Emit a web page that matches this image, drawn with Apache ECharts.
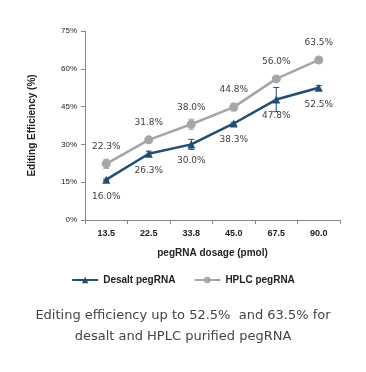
<!DOCTYPE html>
<html><head><meta charset="utf-8">
<script src="https://cdn.jsdelivr.net/npm/echarts@6/dist/echarts.min.js"></script>
<style>html,body{margin:0;padding:0;background:#fff}#c{width:366px;height:372px}</style>
</head><body><div id="c"></div>
<script>
var categories = ['13.5','22.5','33.8','45.0','67.5','90.0'];
var desalt = [16.0, 26.3, 30.0, 38.3, 47.8, 52.5];
var desaltErr = [0.3, 1.0, 2.0, 0.5, 4.8, 0.8];
var hplc = [22.3, 31.8, 38.0, 44.8, 56.0, 63.5];
var hplcErr = [1.8, 0.5, 2.0, 1.5, 1.0, 0.5];
var yTicks = [0, 15, 30, 45, 60, 75];
var caption = ['Editing efficiency up to 52.5%  and 63.5% for', 'desalt and HPLC purified pegRNA'];

var chart = echarts.init(document.getElementById('c'));
function errSeries(vals, errs, color) {
  return {
    type: 'custom', silent: true, z: 5,
    data: vals.map(function (v, i) { return [i, v - errs[i], v + errs[i]]; }),
    renderItem: function (params, api) {
      var lo = api.coord([api.value(0), api.value(1)]);
      var hi = api.coord([api.value(0), api.value(2)]);
      var w = 3;
      var st = { stroke: color, lineWidth: 1 };
      return { type: 'group', children: [
        { type: 'line', shape: { x1: lo[0], y1: lo[1], x2: hi[0], y2: hi[1] }, style: st },
        { type: 'line', shape: { x1: lo[0]-w, y1: lo[1], x2: lo[0]+w, y2: lo[1] }, style: st },
        { type: 'line', shape: { x1: hi[0]-w, y1: hi[1], x2: hi[0]+w, y2: hi[1] }, style: st }
      ]};
    }
  };
}
var labelStyle = { show: true, fontSize: 9, color: '#404040', fontFamily: 'DejaVu Sans', formatter: function (p) { return p.value.toFixed(1) + '%'; } };
chart.setOption({
  animation: false,
  graphic: [
    { type: 'text', x: 183, y: 309, style: { text: caption[0], align: 'center', fill: '#444', font: '13px "DejaVu Sans"' } },
    { type: 'text', x: 183, y: 330, style: { text: caption[1], align: 'center', fill: '#444', font: '13px "DejaVu Sans"' } }
  ],
  legend: {
    data: ['Desalt pegRNA', 'HPLC pegRNA'], top: 270, left: 'center',
    itemWidth: 26, itemHeight: 8, itemGap: 18,
    textStyle: { fontSize: 10, fontWeight: 'bold', color: '#222', fontFamily: 'Liberation Sans' }
  },
  grid: { left: 85, right: 26, top: 31, bottom: 152 },
  xAxis: {
    type: 'category', data: categories, boundaryGap: true,
    name: 'pegRNA dosage (pmol)', nameLocation: 'middle', nameGap: 28,
    nameTextStyle: { fontSize: 10, fontWeight: 'bold', color: '#222', fontFamily: 'Liberation Sans' },
    axisLine: { lineStyle: { color: '#888', width: 1 } },
    axisTick: { show: true, alignWithLabel: false, length: 4, lineStyle: { color: '#888' } },
    axisLabel: { fontSize: 9, fontWeight: 'bold', color: '#222', margin: 9, fontFamily: 'Liberation Sans' }
  },
  yAxis: {
    type: 'value', min: 0, max: 75, interval: 15,
    name: 'Editing Efficiency (%)', nameLocation: 'middle', nameGap: 48,
    nameTextStyle: { fontSize: 10, fontWeight: 'bold', color: '#222', fontFamily: 'Liberation Sans' },
    axisLine: { show: true, lineStyle: { color: '#888', width: 1 } },
    axisTick: { show: true, length: 4, lineStyle: { color: '#888' } },
    splitLine: { show: false },
    axisLabel: { fontSize: 8, color: '#222', margin: 8, fontFamily: 'Liberation Sans',
      formatter: function (v) { return yTicks.indexOf(v) >= 0 ? v + '%' : ''; } }
  },
  series: [
    { name: 'Desalt pegRNA', type: 'line', data: desalt, symbol: 'triangle', symbolSize: 8,
      lineStyle: { color: '#1f4e79', width: 2.5 }, itemStyle: { color: '#1f4e79' }, z: 4,
      label: Object.assign({ position: 'bottom', distance: 8 }, labelStyle) },
    { name: 'HPLC pegRNA', type: 'line', data: hplc, symbol: 'circle', symbolSize: 9,
      lineStyle: { color: '#a6a6a6', width: 2.5 }, itemStyle: { color: '#a6a6a6' }, z: 3,
      label: Object.assign({ position: 'top', distance: 8 }, labelStyle) },
    errSeries(desalt, desaltErr, '#1f4e79'),
    errSeries(hplc, hplcErr, '#a6a6a6')
  ]
});
</script></body></html>
